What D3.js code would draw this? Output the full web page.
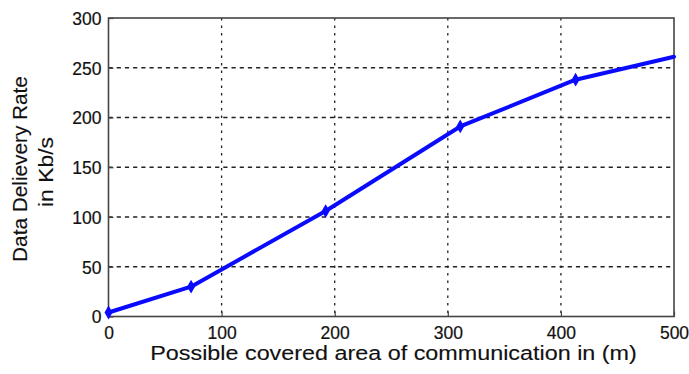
<!DOCTYPE html>
<html>
<head>
<meta charset="utf-8">
<script src="https://cdn.jsdelivr.net/npm/d3@7"></script>
<style>
  html, body { margin: 0; padding: 0; background: #fff; }
  svg { display: block; }
  text { font-family: "Liberation Sans", Arial, Helvetica, sans-serif; fill: #111; }
</style>
</head>
<body>
<svg id="chart" width="689" height="374"></svg>
<script>
// Covered area (m) vs. data delivery rate (Kb/s)
const areaM = [0, 73, 192, 311, 413, 500];
const rateKbps = [4, 30, 106, 191, 238, 261];
const xTicks = [0, 100, 200, 300, 400, 500];
const yTicks = [0, 50, 100, 150, 200, 250, 300];
const xTitle = "Possible covered area of communication in (m)";
const yTitleLines = ["Data Delievery Rate", "in Kb/s"];

const svg = d3.select("#chart");
const plotL = 108.5, plotR = 674, plotT = 18, plotB = 316.5;

const x = d3.scaleLinear().domain([0, 500]).range([plotL, plotR]);
const y = d3.scaleLinear().domain([0, 300]).range([plotB, plotT]);

// grid
const grid = svg.append("g");
grid.selectAll("line.h").data(yTicks.filter(v => v > 0 && v < 300)).join("line")
  .attr("x1", plotL).attr("x2", plotR)
  .attr("y1", d => y(d)).attr("y2", d => y(d))
  .attr("stroke", "#222").attr("stroke-width", 1.3)
  .attr("stroke-dasharray", "4.2,4");
grid.selectAll("line.v").data(xTicks.filter(v => v > 0 && v < 500)).join("line")
  .attr("x1", d => x(d)).attr("x2", d => x(d))
  .attr("y1", plotT).attr("y2", plotB)
  .attr("stroke", "#222").attr("stroke-width", 1.3)
  .attr("stroke-dasharray", "2.5,5");

// axes (ticks pointing inward, box frame)
const xAxis = svg.append("g").attr("transform", `translate(0,${plotB})`)
  .call(d3.axisBottom(x).tickValues(xTicks).tickSize(-5).tickPadding(10));
const yAxis = svg.append("g").attr("transform", `translate(${plotL},0)`)
  .call(d3.axisLeft(y).tickValues(yTicks).tickSize(-5).tickPadding(7));
[xAxis, yAxis].forEach(g => {
  g.select(".domain").remove();
  g.selectAll(".tick line").attr("stroke", "#444").attr("stroke-width", 1.2);
  g.selectAll(".tick text").attr("font-size", 17.5).attr("fill", "#111")
    .attr("stroke", "#111").attr("stroke-width", 0.2)
    .style("font-family", '"Liberation Sans", Arial, sans-serif');
});
xAxis.selectAll(".tick text").attr("dy", "0.71em");
yAxis.selectAll(".tick text").attr("dy", "0.36em");

svg.append("rect")
  .attr("x", plotL).attr("y", plotT)
  .attr("width", plotR - plotL).attr("height", plotB - plotT)
  .attr("fill", "none").attr("stroke", "#444").attr("stroke-width", 1.6);

// series
const pts = areaM.map((a, i) => [a, rateKbps[i]]);
svg.append("path")
  .datum(pts)
  .attr("d", d3.line().x(d => x(d[0])).y(d => y(d[1])))
  .attr("fill", "none").attr("stroke", "#0a0aff")
  .attr("stroke-width", 4).attr("stroke-linejoin", "round").attr("stroke-linecap", "round");
svg.append("g").selectAll("path").data(pts.slice(0, 5)).join("path")
  .attr("transform", d => `translate(${x(d[0])},${y(d[1])})`)
  .attr("d", d3.symbol(d3.symbolDiamond, 55))
  .attr("fill", "#0a0aff");

// stretched label: centred at (cx, cy) along its own baseline, given total length
function stretchedLabel(parent, str, cx, cy, len, size) {
  const g = parent.append("g");
  const t = g.append("text")
    .attr("text-anchor", "middle").attr("font-size", size)
    .attr("stroke", "#111").attr("stroke-width", 0.12)
    .text(str);
  const natural = t.node().getComputedTextLength();
  g.attr("transform", `translate(${cx},${cy}) scale(${len / natural},1)`);
  return g;
}

// titles
stretchedLabel(svg, xTitle, 393.5, 360, 487, 19.5);

const yt = svg.append("g").attr("transform", "translate(0,169) rotate(-90)");
stretchedLabel(yt, yTitleLines[0], 0, 27, 186, 21);
stretchedLabel(yt, yTitleLines[1], -3, 53, 70, 21);
</script>
</body>
</html>
